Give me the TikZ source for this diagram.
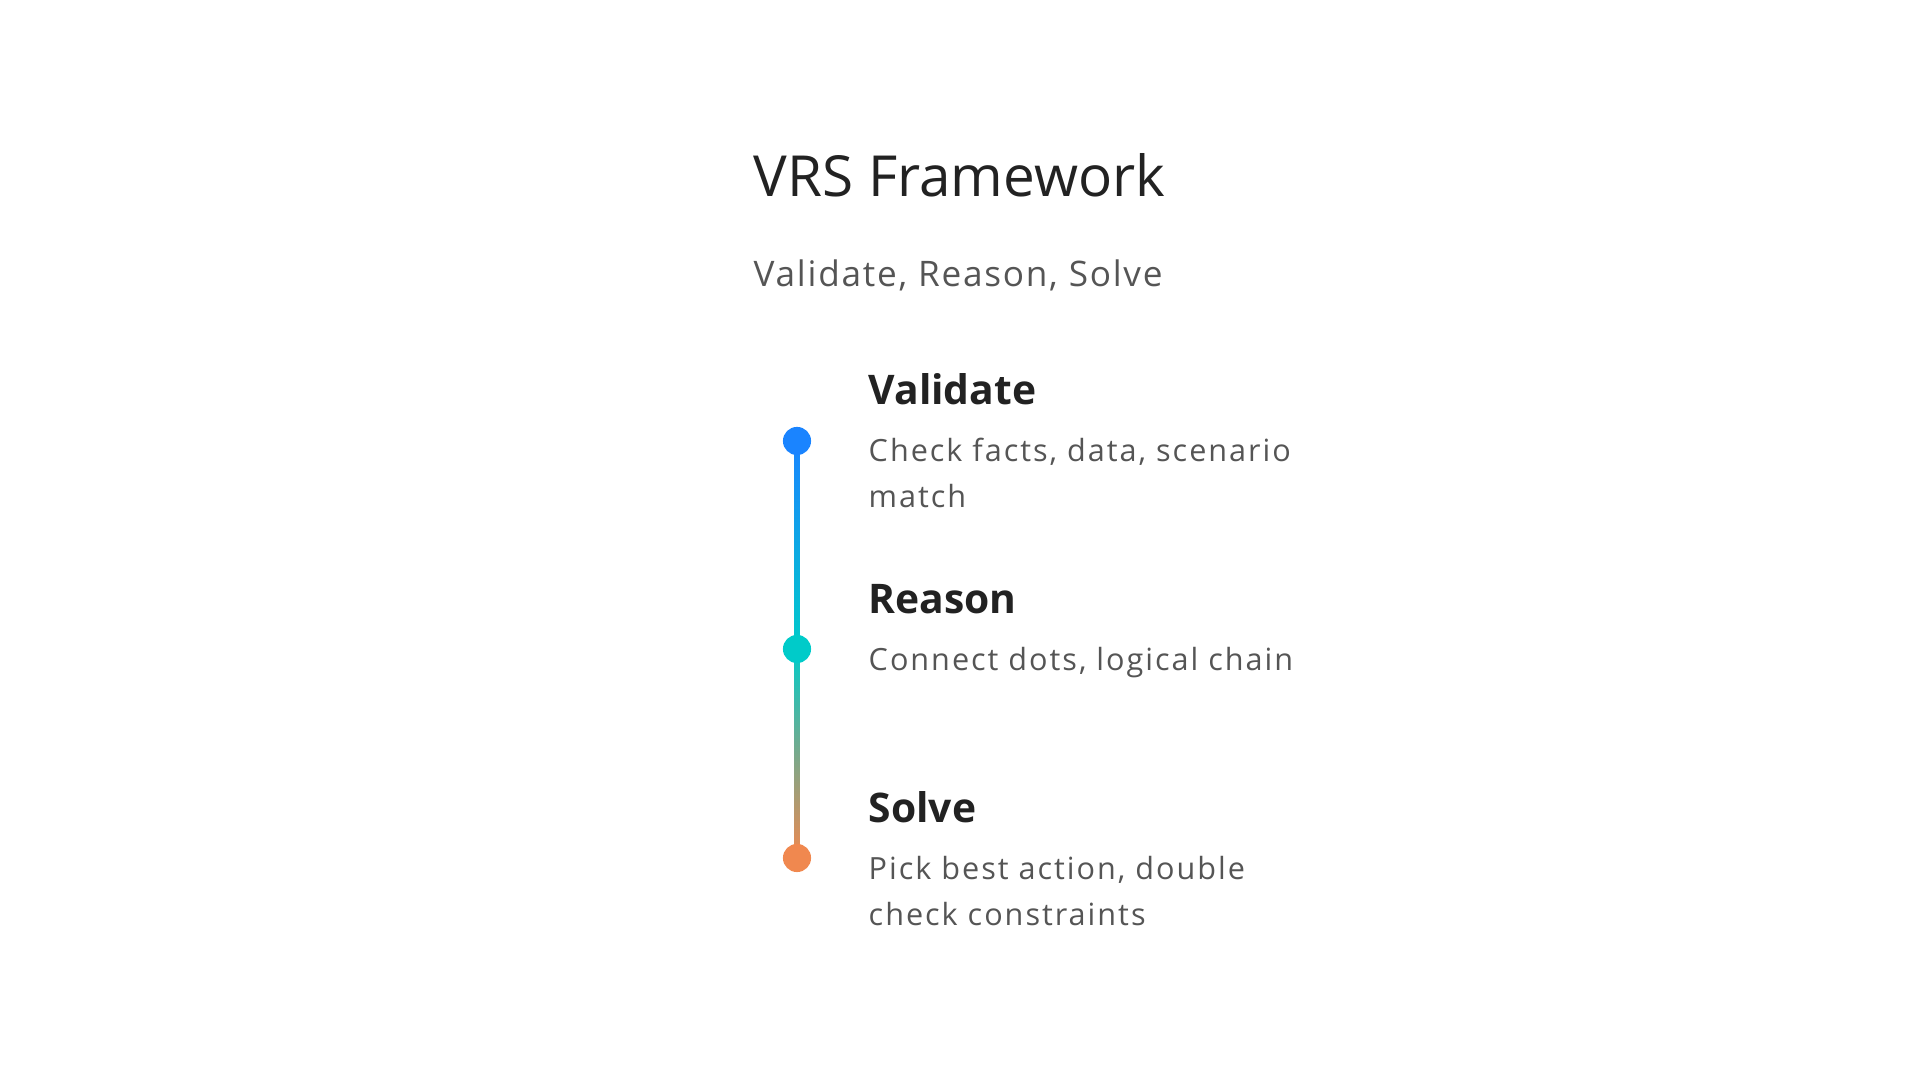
\documentclass[tikz,border=0pt]{standalone}
\usepackage{fontspec}
\setmainfont{Open Sans}
\usepackage{tikz}

\definecolor{vblue}{HTML}{1A84FF}
\definecolor{rcyan}{HTML}{00CBC9}
\definecolor{sorange}{HTML}{F0884F}
\definecolor{darktext}{HTML}{222222}
\definecolor{softtext}{HTML}{555555}

\tikzset{
    dot/.style={circle, fill=#1, minimum size=8pt, inner sep=0pt},
    heading/.style={anchor=base west, inner sep=0pt, text=darktext, font=\fontsize{11.6}{14}\selectfont\bfseries},
    desc/.style={anchor=base west, inner sep=0pt, align=left, text=softtext, font=\fontsize{8.7}{13.1}\selectfont\addfontfeatures{LetterSpace=6.5}}
}

\begin{document}
\begin{tikzpicture}[x=0.01cm, y=-0.01cm]
    \useasboundingbox (0, 0) rectangle (1920, 1080);

    \node[anchor=base west, inner sep=0pt, text=darktext, font=\fontsize{16.1}{20}\selectfont] at (753, 197) (title) {VRS Framework};
    \node[anchor=base west, inner sep=0pt, text=softtext, font=\fontsize{10}{12}\selectfont\addfontfeatures{LetterSpace=5}] at (753, 287) (subtitle) {Validate, Reason, Solve};

    \coordinate (vc) at (797, 441);
    \coordinate (rc) at (797, 649);
    \coordinate (sc) at (797, 858);

    \fill[top color=vblue, bottom color=rcyan] ([xshift=-0.72pt]vc) rectangle ([xshift=0.72pt]rc);
    \fill[top color=rcyan, bottom color=sorange] ([xshift=-0.72pt]rc) rectangle ([xshift=0.72pt]sc);

    \node[dot=vblue] at (vc) (v) {};
    \node[dot=rcyan] at (rc) (r) {};
    \node[dot=sorange] at (sc) (s) {};

    % texts: last line of a wrapped desc sits on the base
    \node[heading] at (868, 405) (vhead) {Validate};
    \node[desc] at (868, 508) (vdesc) {Check facts, data, scenario\\match};
    \node[heading] at (868, 614) (rhead) {Reason};
    \node[desc] at (868, 671) (rdesc) {Connect dots, logical chain};
    \node[heading] at (868, 823) (shead) {Solve};
    \node[desc] at (868, 926) (sdesc) {Pick best action, double\\check constraints};
\end{tikzpicture}
\end{document}
